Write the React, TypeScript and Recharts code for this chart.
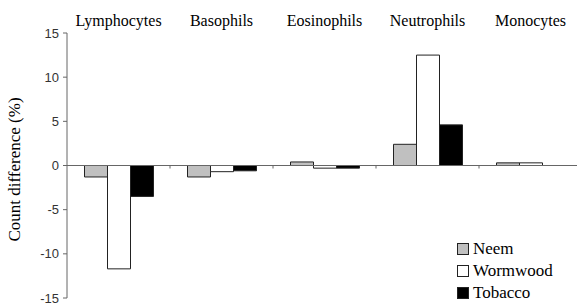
import React from 'react';
import { BarChart, Bar, XAxis, YAxis, ReferenceLine } from 'recharts';

const categories = ['Lymphocytes', 'Basophils', 'Eosinophils', 'Neutrophils', 'Monocytes'];
const neem = [-1.3, -1.3, 0.4, 2.4, 0.3];
const wormwood = [-11.7, -0.7, -0.3, 12.5, 0.3];
const tobacco = [-3.5, -0.6, -0.3, 4.6, 0];
const yTicks = [-15, -10, -5, 0, 5, 10, 15];

const series = [
  { key: 'Neem', fill: '#c0c0c0' },
  { key: 'Wormwood', fill: '#ffffff' },
  { key: 'Tobacco', fill: '#000000' },
];

const data = categories.map((name, i) => ({
  name,
  Neem: neem[i],
  Wormwood: wormwood[i],
  Tobacco: tobacco[i],
}));

const serif = "'Liberation Serif', 'Times New Roman', Times, serif";
const sans = "'Liberation Sans', Arial, sans-serif";

// zero line with small ticks at the category boundaries
const ZeroLine = (props: any) => {
  const { x1, x2, y1 } = props;
  const step = (x2 - x1) / categories.length;
  return (
    <g>
      <line x1={x1} x2={x2} y1={y1} y2={y1} stroke="#666" strokeWidth={1} />
      {categories.slice(1).map((c, i) => (
        <line key={c} x1={x1 + step * (i + 1)} x2={x1 + step * (i + 1)} y1={y1} y2={y1 + 3} stroke="#666" />
      ))}
    </g>
  );
};

export default function App() {
  return (
    <div style={{ position: 'absolute', left: 0, top: 0, width: 577, height: 306, overflow: 'hidden', background: '#fff' }}>
      <BarChart
        width={582}
        height={306}
        data={data}
        margin={{ top: 0, right: 0, bottom: 8, left: 0 }}
        barCategoryGap="17%"
        barGap={0}
      >
        <XAxis
          dataKey="name"
          orientation="top"
          height={33}
          axisLine={false}
          tickLine={false}
          tickSize={0}
          tickMargin={7}
          interval={0}
          tick={{ fontFamily: serif, fontSize: 16, fill: '#000' }}
        />
        <YAxis
          domain={[-15, 15]}
          ticks={yTicks}
          interval={0}
          width={67}
          stroke="#666"
          tickSize={4}
          tickMargin={4}
          tick={{ fontFamily: sans, fontSize: 13, fill: '#333' }}
          label={{
            value: 'Count difference (%)',
            angle: -90,
            position: 'insideLeft',
            offset: 14,
            dy: 4,
            style: { fontFamily: serif, fontSize: 17, fill: '#000', textAnchor: 'middle' },
          }}
        />
        <ReferenceLine y={0} shape={<ZeroLine />} />
        {series.map((s) => (
          <Bar key={s.key} dataKey={s.key} fill={s.fill} stroke="#222" strokeWidth={1} isAnimationActive={false} />
        ))}
      </BarChart>
      <svg width={120} height={70} style={{ position: 'absolute', left: 455, top: 236 }}>
        {series.map((s, i) => (
          <g key={s.key} transform={`translate(0, ${i * 22})`}>
            <rect x={2.5} y={7.5} width={11} height={11} fill={s.fill} stroke="#222" />
            <text x={18} y={18} style={{ fontFamily: serif, fontSize: 17 }} fill="#000">
              {s.key}
            </text>
          </g>
        ))}
      </svg>
    </div>
  );
}
